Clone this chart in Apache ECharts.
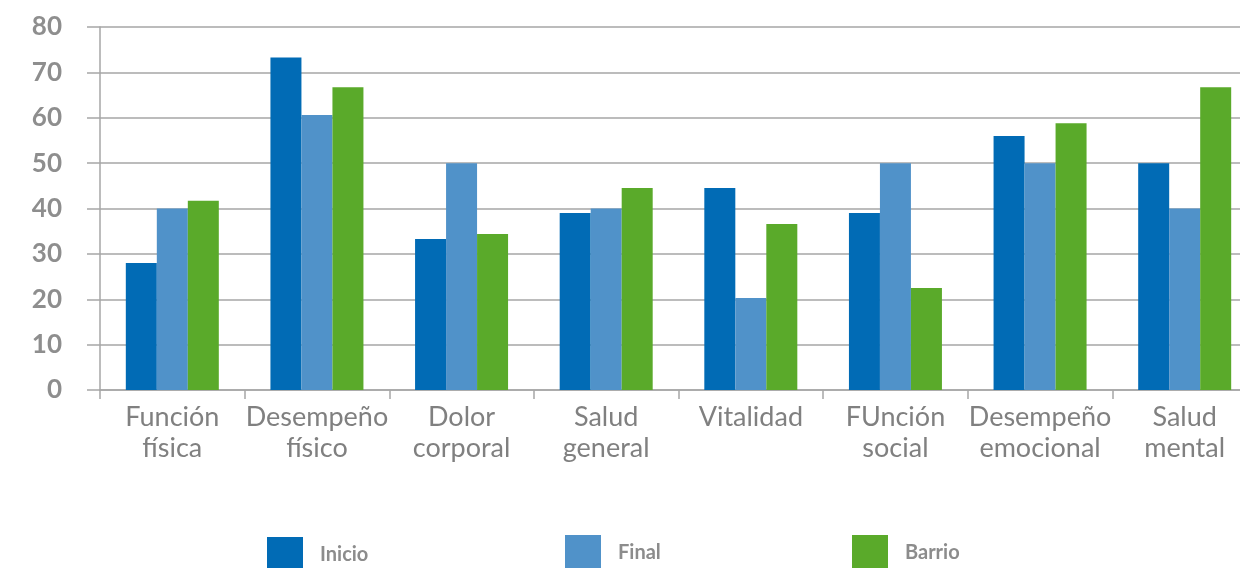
<!DOCTYPE html>
<html>
<head>
    <meta http-equiv="Content-Type" content="text/html; charset=utf-8" />
    <style type="text/css">
        body, html {width: 100%;height: 100%;margin:0;background:#fff;}
        #chart{width:1240px;height:568px;}
    </style>
    <script src="https://cdn.jsdelivr.net/npm/echarts@6/dist/echarts.min.js"></script>
    <title>Salud</title>
</head>
<body>
<div id="chart"></div>
<script type="text/javascript">
    var categories = ['Función\nfísica', 'Desempeño\nfísico', 'Dolor\ncorporal', 'Salud\ngeneral',
        'Vitalidad', 'FUnción\nsocial', 'Desempeño\nemocional', 'Salud\nmental'];
    var inicio = [28, 73.3, 33.3, 39, 44.5, 39, 56, 50];
    var final = [40, 60.6, 50, 40, 20.3, 50, 50, 40];
    var barrio = [41.7, 66.7, 34.4, 44.5, 36.6, 22.5, 58.8, 66.7];
    var colors = ['#016bb5', '#5092c9', '#5aaa2a'];

    var myChart = echarts.init(document.getElementById('chart'));
    var legendText = {color: '#8c8c8c', fontSize: 20, fontWeight: 'bold', fontFamily: 'Lato', padding: [0, 0, 0, 12]};
    var option = {
        animation: false,
        color: colors,
        grid: {left: 100, top: 27, bottom: 178, right: -17, containLabel: false, outerBoundsMode: 'none'},
        legend: [
            {data: ['Inicio'], left: 262, top: 532, itemWidth: 36, itemHeight: 36, icon: 'rect', textStyle: legendText},
            {data: ['Final'], left: 560, top: 530, itemWidth: 36, itemHeight: 36, icon: 'rect', textStyle: legendText},
            {data: ['Barrio'], left: 847, top: 530, itemWidth: 36, itemHeight: 36, icon: 'rect', textStyle: legendText}
        ],
        xAxis: {
            type: 'category',
            data: categories,
            axisLine: {lineStyle: {color: '#a6a6a6', width: 1.5}},
            axisTick: {show: true, length: 9, lineStyle: {color: '#a6a6a6', width: 1.5}},
            axisLabel: {color: '#808080', fontSize: 27, fontFamily: 'Lato', lineHeight: 31, margin: 12, interval: 0}
        },
        yAxis: {
            type: 'value',
            min: 0,
            max: 80,
            interval: 10,
            axisLine: {show: true, lineStyle: {color: '#a6a6a6', width: 1.5}},
            axisTick: {show: true, length: 13, lineStyle: {color: '#a6a6a6', width: 1.5}},
            splitLine: {lineStyle: {color: '#a6a6a6', width: 1.5}},
            axisLabel: {color: '#8e8e8e', fontSize: 26, fontWeight: 'bold', fontFamily: 'Lato', margin: 38}
        },
        series: [
            {name: 'Inicio', type: 'bar', data: inicio, barWidth: 31, barGap: 0},
            {name: 'Final', type: 'bar', data: final, barWidth: 31, barGap: 0},
            {name: 'Barrio', type: 'bar', data: barrio, barWidth: 31, barGap: 0}
        ]
    };
    myChart.setOption(option);
</script>
</body>
</html>
